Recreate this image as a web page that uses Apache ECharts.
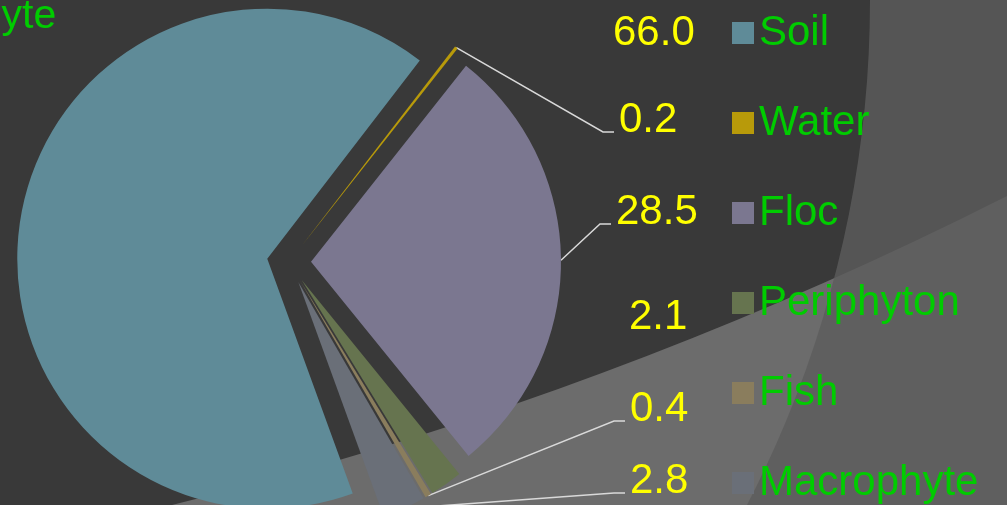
<!DOCTYPE html>
<html>
<head>
<meta charset="utf-8">
<script src="https://cdn.jsdelivr.net/npm/echarts@6/dist/echarts.min.js"></script>
<style>
html,body{margin:0;padding:0;background:#393939;}
#chart{width:1007px;height:505px;}
</style>
</head>
<body>
<div id="chart"></div>
<script>
// ---- data ----
const categories = ['Soil', 'Water', 'Floc', 'Periphyton', 'Fish', 'Macrophyte'];
const values = [66.0, 0.2, 28.5, 2.1, 0.4, 2.8];
const titleText = 'Macrophyte';

// ---- styles / layout ----
const colors = ['#5f8b98', '#b89a0a', '#7b7790', '#66744f', '#8a7d5d', '#6a6f78'];
const showLeader = [false, true, true, false, true, true];
const CENTER = [289, 262];
const RADIUS = 250;
const OFFSET = 22;
const labelPos = [[613, 33], [619, 120], [616, 212], [629, 317], [630, 409], [630, 481]];
const FONT = 'Liberation Sans, Arial, sans-serif';

const chart = echarts.init(document.getElementById('chart'), null, {renderer: 'canvas'});

const pieData = categories.map((n, i) => ({
  name: n, value: values[i], selected: true,
  itemStyle: {color: colors[i]}
}));
const labelData = categories.map((n, i) => ({
  name: n, value: values[i],
  itemStyle: {color: 'rgba(0,0,0,0)'},
  labelLine: {show: showLeader[i]}
}));

chart.setOption({
  backgroundColor: '#393939',
  animation: false,
  title: {
    text: titleText, left: -158, top: -4, padding: 0,
    textStyle: {color: '#00cc00', fontSize: 41, fontWeight: 'normal', fontFamily: FONT}
  },
  graphic: {elements: [
    {type: 'ring', silent: true, z: -10,
     shape: {cx: -756, cy: -3284, r0: 3901, r: 8000},
     style: {fill: '#6c6c6c'}},
    {type: 'ring', silent: true, z: -9,
     shape: {cx: -228, cy: 0, r0: 1098, r: 4000},
     style: {fill: 'rgba(92,92,92,0.804)'}}
  ]},
  legend: {
    orient: 'vertical', left: 732, top: 12, padding: 0,
    data: categories, icon: 'rect', itemWidth: 22, itemHeight: 22,
    itemGap: 48, itemTextGap: 12, selectedMode: false,
    textStyle: {color: '#00cc00', fontSize: 42, lineHeight: 42, fontFamily: FONT}
  },
  series: [
    {
      type: 'pie', center: CENTER, radius: RADIUS, startAngle: -70,
      clockwise: true, selectedMode: 'multiple', selectedOffset: OFFSET,
      avoidLabelOverlap: false, silent: true,
      label: {show: false}, labelLine: {show: false},
      select: {itemStyle: {borderWidth: 0}},
      emphasis: {disabled: true},
      data: pieData
    },
    {
      type: 'pie', center: CENTER, radius: RADIUS, startAngle: -70,
      clockwise: true, silent: true, avoidLabelOverlap: false,
      emphasis: {disabled: true},
      label: {
        show: true, position: 'outside', color: '#ffff00', fontSize: 42,
        fontFamily: FONT,
        formatter: p => p.value.toFixed(1)
      },
      labelLine: {show: true, length: 20, length2: 10,
        lineStyle: {color: '#d9d9d9', width: 1.5}},
      labelLayout: function (p) {
        const i = p.dataIndex;
        const pos = labelPos[i];
        const out = {x: pos[0], y: pos[1], align: 'left', verticalAlign: 'middle'};
        if (showLeader[i] && p.labelLinePoints) {
          const a = p.labelLinePoints[0];
          const dx = a[0] - CENTER[0], dy = a[1] - CENTER[1];
          const L = Math.hypot(dx, dy) || 1;
          const ax = a[0] + dx / L * OFFSET, ay = a[1] + dy / L * OFFSET;
          const ly = pos[1] + 12;
          out.labelLinePoints = [[ax, ay], [pos[0] - 16, ly], [pos[0] - 5, ly]];
        }
        return out;
      },
      data: labelData
    }
  ]
});
</script>
</body>
</html>
